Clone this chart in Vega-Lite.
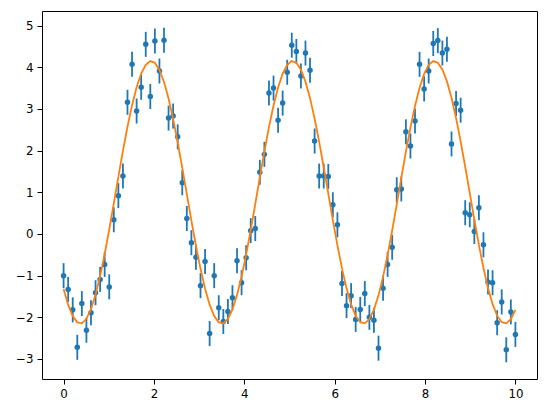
{
  "$schema": "https://vega.github.io/schema/vega-lite/v6.json",
  "width": 495,
  "height": 368,
  "autosize": "none",
  "padding": {"left": 42, "top": 11, "right": 9, "bottom": 34},
  "background": "white",
  "config": {
    "view": {"stroke": "black", "strokeWidth": 1},
    "axis": {"grid": false, "domain": false, "tickColor": "black", "tickSize": 5, "tickWidth": 1, "labelColor": "black", "labelFont": "DejaVu Sans", "labelFontSize": 11.8, "labelPadding": 4, "title": null}
  },
  "data": {"values": [
    {"x":0,"y":-1.00,"fit":-1.322,"err":0.3},
    {"x":0.101,"y":-1.33,"fit":-1.703,"err":0.3},
    {"x":0.202,"y":-1.82,"fit":-1.972,"err":0.3},
    {"x":0.303,"y":-2.72,"fit":-2.122,"err":0.3},
    {"x":0.404,"y":-1.67,"fit":-2.143,"err":0.3},
    {"x":0.5051,"y":-2.31,"fit":-2.036,"err":0.3},
    {"x":0.6061,"y":-1.89,"fit":-1.805,"err":0.3},
    {"x":0.7071,"y":-1.41,"fit":-1.458,"err":0.3},
    {"x":0.8081,"y":-1.09,"fit":-1.011,"err":0.3},
    {"x":0.9091,"y":-0.73,"fit":-0.482,"err":0.3},
    {"x":1.0101,"y":-1.27,"fit":0.107,"err":0.3},
    {"x":1.1111,"y":0.34,"fit":0.733,"err":0.3},
    {"x":1.2121,"y":0.92,"fit":1.370,"err":0.3},
    {"x":1.3131,"y":1.39,"fit":1.992,"err":0.3},
    {"x":1.4141,"y":3.16,"fit":2.573,"err":0.3},
    {"x":1.5152,"y":4.07,"fit":3.090,"err":0.3},
    {"x":1.6162,"y":2.95,"fit":3.522,"err":0.3},
    {"x":1.7172,"y":3.52,"fit":3.850,"err":0.3},
    {"x":1.8182,"y":4.55,"fit":4.061,"err":0.3},
    {"x":1.9192,"y":3.30,"fit":4.148,"err":0.3},
    {"x":2.0202,"y":4.63,"fit":4.106,"err":0.3},
    {"x":2.1212,"y":3.91,"fit":3.937,"err":0.3},
    {"x":2.2222,"y":4.65,"fit":3.648,"err":0.3},
    {"x":2.3232,"y":2.78,"fit":3.250,"err":0.3},
    {"x":2.4242,"y":2.83,"fit":2.761,"err":0.3},
    {"x":2.5253,"y":2.33,"fit":2.199,"err":0.3},
    {"x":2.6263,"y":1.23,"fit":1.589,"err":0.3},
    {"x":2.7273,"y":0.37,"fit":0.954,"err":0.3},
    {"x":2.8283,"y":-0.21,"fit":0.321,"err":0.3},
    {"x":2.9293,"y":-0.56,"fit":-0.283,"err":0.3},
    {"x":3.0303,"y":-1.24,"fit":-0.836,"err":0.3},
    {"x":3.1313,"y":-0.66,"fit":-1.313,"err":0.3},
    {"x":3.2323,"y":-2.39,"fit":-1.696,"err":0.3},
    {"x":3.3333,"y":-1.00,"fit":-1.969,"err":0.3},
    {"x":3.4343,"y":-1.77,"fit":-2.120,"err":0.3},
    {"x":3.5354,"y":-2.10,"fit":-2.143,"err":0.3},
    {"x":3.6364,"y":-1.86,"fit":-2.039,"err":0.3},
    {"x":3.7374,"y":-1.53,"fit":-1.809,"err":0.3},
    {"x":3.8384,"y":-0.64,"fit":-1.465,"err":0.3},
    {"x":3.9394,"y":-1.17,"fit":-1.020,"err":0.3},
    {"x":4.0404,"y":-0.57,"fit":-0.493,"err":0.3},
    {"x":4.1414,"y":0.08,"fit":0.096,"err":0.3},
    {"x":4.2424,"y":0.13,"fit":0.721,"err":0.3},
    {"x":4.3434,"y":1.48,"fit":1.358,"err":0.3},
    {"x":4.4444,"y":1.91,"fit":1.980,"err":0.3},
    {"x":4.5455,"y":3.38,"fit":2.562,"err":0.3},
    {"x":4.6465,"y":3.50,"fit":3.081,"err":0.3},
    {"x":4.7475,"y":2.73,"fit":3.514,"err":0.3},
    {"x":4.8485,"y":3.14,"fit":3.845,"err":0.3},
    {"x":4.9495,"y":3.88,"fit":4.059,"err":0.3},
    {"x":5.0505,"y":4.53,"fit":4.148,"err":0.3},
    {"x":5.1515,"y":4.38,"fit":4.108,"err":0.3},
    {"x":5.2525,"y":3.79,"fit":3.942,"err":0.3},
    {"x":5.3535,"y":4.34,"fit":3.655,"err":0.3},
    {"x":5.4545,"y":3.93,"fit":3.259,"err":0.3},
    {"x":5.5556,"y":2.23,"fit":2.771,"err":0.3},
    {"x":5.6566,"y":1.39,"fit":2.211,"err":0.3},
    {"x":5.7576,"y":1.39,"fit":1.601,"err":0.3},
    {"x":5.8586,"y":1.38,"fit":0.966,"err":0.3},
    {"x":5.9596,"y":0.70,"fit":0.333,"err":0.3},
    {"x":6.0606,"y":0.22,"fit":-0.272,"err":0.3},
    {"x":6.1616,"y":-1.19,"fit":-0.826,"err":0.3},
    {"x":6.2626,"y":-1.72,"fit":-1.305,"err":0.3},
    {"x":6.3636,"y":-1.48,"fit":-1.689,"err":0.3},
    {"x":6.4646,"y":-2.05,"fit":-1.965,"err":0.3},
    {"x":6.5657,"y":-1.81,"fit":-2.118,"err":0.3},
    {"x":6.6667,"y":-1.43,"fit":-2.144,"err":0.3},
    {"x":6.7677,"y":-2.00,"fit":-2.042,"err":0.3},
    {"x":6.8687,"y":-2.07,"fit":-1.815,"err":0.3},
    {"x":6.9697,"y":-2.74,"fit":-1.473,"err":0.3},
    {"x":7.0707,"y":-1.30,"fit":-1.030,"err":0.3},
    {"x":7.1717,"y":-0.73,"fit":-0.504,"err":0.3},
    {"x":7.2727,"y":-0.32,"fit":0.084,"err":0.3},
    {"x":7.3737,"y":1.06,"fit":0.709,"err":0.3},
    {"x":7.4747,"y":1.08,"fit":1.346,"err":0.3},
    {"x":7.5758,"y":2.45,"fit":1.969,"err":0.3},
    {"x":7.6768,"y":2.11,"fit":2.552,"err":0.3},
    {"x":7.7778,"y":2.71,"fit":3.072,"err":0.3},
    {"x":7.8788,"y":4.07,"fit":3.507,"err":0.3},
    {"x":7.9798,"y":3.48,"fit":3.840,"err":0.3},
    {"x":8.0808,"y":3.91,"fit":4.056,"err":0.3},
    {"x":8.1818,"y":4.57,"fit":4.147,"err":0.3},
    {"x":8.2828,"y":4.64,"fit":4.110,"err":0.3},
    {"x":8.3838,"y":4.34,"fit":3.946,"err":0.3},
    {"x":8.4848,"y":4.43,"fit":3.661,"err":0.3},
    {"x":8.5859,"y":2.16,"fit":3.267,"err":0.3},
    {"x":8.6869,"y":3.13,"fit":2.781,"err":0.3},
    {"x":8.7879,"y":2.97,"fit":2.222,"err":0.3},
    {"x":8.8889,"y":0.51,"fit":1.613,"err":0.3},
    {"x":8.9899,"y":0.46,"fit":0.979,"err":0.3},
    {"x":9.0909,"y":0.06,"fit":0.345,"err":0.3},
    {"x":9.1919,"y":0.63,"fit":-0.262,"err":0.3},
    {"x":9.2929,"y":-0.26,"fit":-0.816,"err":0.3},
    {"x":9.3939,"y":-1.15,"fit":-1.297,"err":0.3},
    {"x":9.4949,"y":-1.17,"fit":-1.683,"err":0.3},
    {"x":9.596,"y":-2.13,"fit":-1.960,"err":0.3},
    {"x":9.697,"y":-1.63,"fit":-2.116,"err":0.3},
    {"x":9.798,"y":-2.78,"fit":-2.145,"err":0.3},
    {"x":9.899,"y":-1.87,"fit":-2.045,"err":0.3},
    {"x":10,"y":-2.41,"fit":-1.820,"err":0.3}
  ]},
  "encoding": {
    "x": {"field": "x", "type": "quantitative", "title": null, "scale": {"domain": [-0.478, 10.478], "nice": false, "zero": false}, "axis": {"values": [0, 2, 4, 6, 8, 10], "format": "d", "title": null}}
  },
  "layer": [
    {
      "mark": {"type": "errorbar", "color": "#1f77b4", "thickness": 1.8},
      "encoding": {
        "y": {"field": "y", "type": "quantitative", "title": null, "scale": {"domain": [-3.48, 5.35], "nice": false, "zero": false}, "axis": {"values": [-3, -2, -1, 0, 1, 2, 3, 4, 5], "format": "d", "title": null}},
        "yError": {"field": "err"}
      }
    },
    {
      "mark": {"type": "circle", "color": "#1f77b4", "opacity": 1, "size": 30},
      "encoding": {"y": {"field": "y", "type": "quantitative", "title": null}}
    },
    {
      "mark": {"type": "line", "color": "#ff7f0e", "strokeWidth": 1.8},
      "encoding": {"y": {"field": "fit", "type": "quantitative", "title": null}}
    }
  ]
}
